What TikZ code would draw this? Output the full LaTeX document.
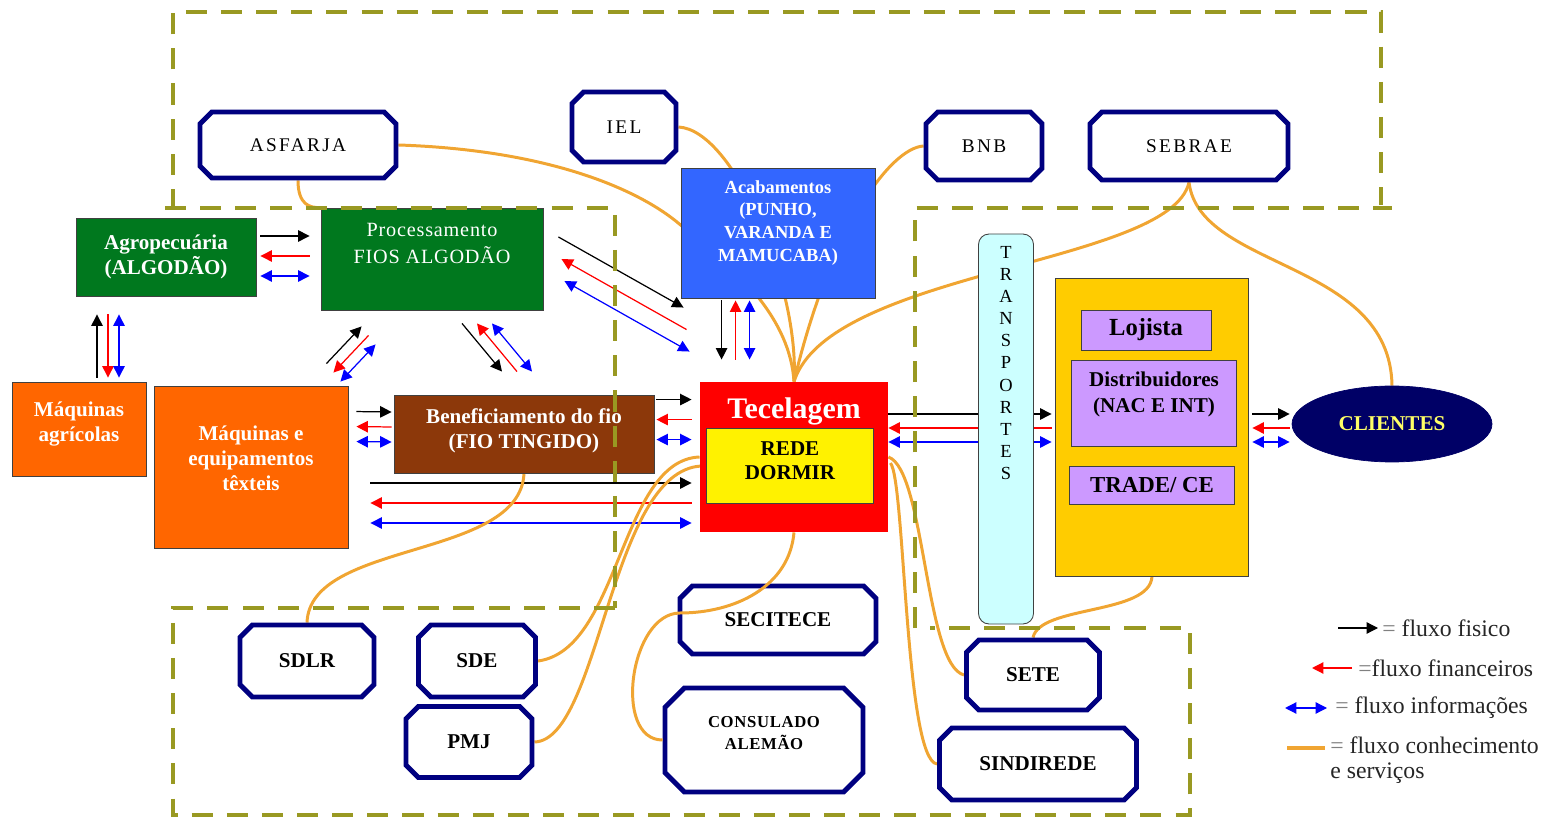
\documentclass[tikz,border=0pt]{standalone}
\usepackage{fontspec}
\setmainfont{Liberation Serif}
\newfontfamily\largo[LetterSpace=12]{Liberation Serif}
\newfontfamily\meio[LetterSpace=4]{Liberation Serif}
\usetikzlibrary{shapes.misc,shapes.geometric,arrows.meta,calc}

\definecolor{oliva}{RGB}{153,153,34}
\definecolor{marinho}{RGB}{0,0,128}
\definecolor{folha}{RGB}{0,120,30}
\definecolor{azulacab}{RGB}{51,102,255}
\definecolor{laranja}{RGB}{255,102,0}
\definecolor{marrom}{RGB}{140,56,10}
\definecolor{ouro}{RGB}{255,204,0}
\definecolor{lilas}{RGB}{204,153,255}
\definecolor{ceu}{RGB}{204,255,255}
\definecolor{conhec}{RGB}{240,165,50}
\definecolor{noite}{RGB}{0,0,102}
\definecolor{amarelo}{RGB}{255,255,102}

\pgfdeclarelayer{fundo}
\pgfdeclarelayer{frente}
\pgfsetlayers{fundo,main,frente}

% three parallel flows: black start, black end, step to the next line
\newcommand\fluxo[3]{%
  \path #1 coordinate (fa) #2 coordinate (fb);
  \draw[fis] (fa) -- (fb);                         % fluxo fisico
  \draw[fin] ($(fb)+(#3)$) -- ($(fa)+(#3)$);       % fluxo financeiro, going back
  \draw[inf] ($(fa)+2*(#3)$) -- ($(fb)+2*(#3)$);   % fluxo informacoes, both ways
}

\begin{document}
\begin{tikzpicture}[x=0.02cm, y=-0.02cm,
    sz/.style 2 args={minimum width=#1*0.02cm, minimum height=#2*0.02cm},
    caixa/.style={rectangle, draw=black!75, line width=0.5pt, inner sep=0pt,
      align=center, text=white, font=\bfseries\fontsize{12}{14}\selectfont},
    octo/.style={chamfered rectangle, chamfered rectangle xsep=8pt,
      draw=marinho, line width=2.8pt, fill=white, inner sep=0pt, align=center,
      font=\bfseries\fontsize{12}{14}\selectfont},
    octofino/.style={octo, font=\largo\fontsize{11}{13}\selectfont},
    dentro/.style={anchor=north, inner sep=0pt, align=center},
    fis/.style={black, line width=0.7pt, -{Triangle[length=6.5pt,width=6.5pt]}},
    fin/.style={red, line width=0.7pt, -{Triangle[length=6.5pt,width=6.5pt]}},
    inf/.style={blue, line width=0.7pt, {Triangle[length=6.5pt,width=6.5pt]}-{Triangle[length=6.5pt,width=6.5pt]}},
    con/.style={conhec, line width=1.7pt},
    tracejado/.style={oliva, line width=2.8pt, dash pattern=on 12pt off 8pt},
    leg/.style={anchor=west, inner sep=0pt, text=black!85, align=left,
      font=\fontsize{13.5}{14}\selectfont}]
  \useasboundingbox (0,0) rectangle (1552,820);

  % organisations on top
  \node[octofino, sz={196}{66}] (asf) at (298,145) {ASFARJA};
  \node[octofino, sz={104}{70}] (iel) at (624,127) {IEL};
  \node[octofino, sz={116}{68}] (bnb) at (984,146) {BNB};
  \node[octofino, sz={198}{68}] (seb) at (1189,146) {SEBRAE};

  % production chain
  \node[caixa, fill=folha, sz={180}{78}] (agro) at (166,257) {Agropecuária\\(ALGODÃO)};
  \node[caixa, fill=folha, sz={222}{102},
    label={[dentro, yshift=-9pt, text=white, font=\meio\fontsize{11.5}{15}\selectfont]north:Processamento\\FIOS ALGODÃO}]
    (proc) at (432,259) {};
  \node[caixa, fill=azulacab, sz={194}{130},
    label={[dentro, yshift=-7pt, text=white, font=\bfseries\fontsize{10.5}{12.9}\selectfont]north:Acabamentos\\(PUNHO,\\VARANDA E\\MAMUCABA)}]
    (acab) at (778,233) {};
  \node[caixa, fill=laranja, sz={134}{94}, text depth=8pt] (maqag) at (79,429) {Máquinas\\agrícolas};
  \node[caixa, fill=laranja, sz={194}{162}, text depth=10pt] (maq) at (251,467) {Máquinas e\\equipamentos\\têxteis};
  \node[caixa, fill=marrom, sz={260}{78}, text depth=6pt] (benef) at (524,434) {Beneficiamento do fio\\(FIO TINGIDO)};
  \node[caixa, draw=none, fill=red, sz={188}{150},
    label={[dentro, yshift=-9pt, text=white, font=\bfseries\fontsize{17}{19}\selectfont]north:Tecelagem}]
    (tecel) at (794,457) {};
  \node[caixa, fill=yellow, text=black, sz={167}{75}, text depth=6pt] (rede) at (790,466) {REDE\\DORMIR};

  % distribution
  \node[caixa, fill=ceu, rounded corners=6pt, sz={55}{390},
    label={[dentro, yshift=-7pt, text=black, font=\fontsize{10.5}{12.6}\selectfont]north:T\\R\\A\\N\\S\\P\\O\\R\\T\\E\\S}]
    (transp) at (1006,429) {};
  \node[caixa, fill=ouro, sz={193}{298}] (ouro) at (1152,427) {};
  \node[caixa, fill=lilas, text=black, sz={130}{40}, font=\bfseries\fontsize{14}{16}\selectfont] (loj) at (1146,330) {Lojista};
  \node[caixa, fill=lilas, sz={165}{86},
    label={[dentro, yshift=-7pt, text=black, font=\bfseries\fontsize{12}{14.7}\selectfont]north:Distribuidores\\(NAC E INT)}]
    (dist) at (1154,403) {};
  \node[caixa, fill=lilas, text=black, sz={165}{38}, font=\bfseries\fontsize{13}{15}\selectfont] (trade) at (1152,485) {TRADE/ CE};
  \node[ellipse, fill=noite, draw=noite, text=amarelo, sz={200}{76},
    font=\bfseries\fontsize{12}{14}\selectfont] (cli) at (1392,424) {CLIENTES};

  % organisations below
  \node[octo, sz={196}{68}] (secit) at (778,620) {SECITECE};
  \node[octo, sz={198}{104}, text depth=8pt, font=\bfseries\meio\fontsize{9.5}{13}\selectfont] (consul) at (764,740) {CONSULADO\\ALEMÃO};
  \node[octo, sz={134}{72}] (sdlr) at (307,661) {SDLR};
  \node[octo, sz={117}{72}] (sde) at (477,661) {SDE};
  \node[octo, sz={126}{71}] (pmj) at (469,742) {PMJ};
  \node[octo, sz={133}{70}] (sete) at (1033,675) {SETE};
  \node[octo, sz={197}{72}] (sind) at (1038,764) {SINDIREDE};

  % legend
  \node[leg] (l1) at (1382,628) {{\color{gray}=} fluxo fisico};
  \node[leg] (l2) at (1358,668) {{\color{gray}=}fluxo financeiros};
  \node[leg] (l3) at (1335,708) {{\color{gray}=} fluxo informações};
  \node[leg] (l4) at (1330,760) {{\color{gray}=} fluxo conhecimento\\e serviços};

  \begin{pgfonlayer}{fundo}
    % flows between the links of the chain
    \fluxo{($(agro.east)+(4,-21)$)}{($(proc.west)+(-11,-23)$)}{0,20}
    \fluxo{($(maqag.north)+(18,-4)$)}{($(agro.south)+(-69,18)$)}{11,0}
    \fluxo{($(maq.north east)+(-22,-22)$)}{($(proc.south west)+(41,16)$)}{7,9}
    \fluxo{($(proc.south)+(30,13)$)}{($(benef.north)+(-22,-23)$)}{15,0}
    \fluxo{($(proc.east)+(15,-22)$)}{($(tecel.north west)+(-16,-74)$)}{3,22}
    \fluxo{($(acab.south west)+(41,2)$)}{($(tecel.north west)+(22,-22)$)}{14,0}
    \fluxo{($(maq.north east)+(8,26)$)}{($(benef.west)+(-2,-22)$)}{0,15}
    \fluxo{($(benef.north east)+(2,5)$)}{($(tecel.north west)+(-8,18)$)}{0,20}
    \fluxo{($(maq.east)+(22,16)$)}{($(tecel.west)+(-8,26)$)}{0,20}
    \fluxo{($(tecel.east)+(0,-43)$)}{($(ouro.west)+(-3.5,-13)$)}{0,14}
    \fluxo{($(ouro.east)+(3.5,-13)$)}{($(cli.west)+(-2,-10)$)}{0,14}

    % knowledge and services
    \draw[con] (asf.east) .. controls (550,150) and (640,190) .. ($(acab.west)+(0,-8)$)
      .. controls (740,270) and (790,320) .. (tecel.north);
    \draw[con] (iel.east) .. controls (735,130) and (800,290) .. (tecel.north);
    \draw[con] (bnb.west) .. controls (890,148) and (830,230) .. (tecel.north);
    \draw[con] (seb.south) .. controls (1170,265) and (830,270) .. (tecel.north);
    \draw[con] (seb.south) .. controls (1200,270) and (1390,260) .. (cli.north);
    \draw[con] (asf.south) .. controls (298,205) and (310,208) .. (proc.north west);
    \draw[con] (benef.south) .. controls (520,560) and (310,540) .. (sdlr.north);
    \draw[con] (tecel.west) .. controls (620,460) and (620,650) .. (sde.east);
    \draw[con] ($(tecel.west)+(2,9)$) .. controls (610,470) and (600,740) .. (pmj.east);
    \draw[con] (tecel.east) .. controls (925,470) and (925,665) .. (sete.west);
    \draw[con] ($(tecel.east)+(2,6)$) .. controls (905,480) and (905,760) .. (sind.west);
    \draw[con] (ouro.south) .. controls (1150,615) and (1040,605) .. (sete.north);

    % legend keys
    \draw[fis] ($(l1.west)+(-44,0)$) -- ($(l1.west)+(-4,0)$);
    \draw[fin] ($(l2.west)+(-6,0)$) -- ($(l2.west)+(-46,0)$);
    \draw[inf] ($(l3.west)+(-50,0)$) -- ($(l3.west)+(-8,0)$);
    \draw[con, line width=2.2pt] ($(l4.west)+(-43,-12)$) -- ($(l4.west)+(-5,-12)$);
  \end{pgfonlayer}

  \draw[con] (tecel.south) to[out=-95,in=0] (680,613) to[out=180,in=180] (consul.west);

  \begin{pgfonlayer}{frente}
    % dashed groups
    \draw[tracejado] (173,210) |- (1381,12) -- (1381,205);
    \draw[tracejado] (165,208) -- (615,208) -- (615,608);
    \draw[tracejado] (615,608) -- (173,608) -- (173,815) -- (1190,815) -- (1190,628) -- (930,628);
    \draw[tracejado] (915,628) -- (915,208) -- (1392,208);
  \end{pgfonlayer}
\end{tikzpicture}
\end{document}
